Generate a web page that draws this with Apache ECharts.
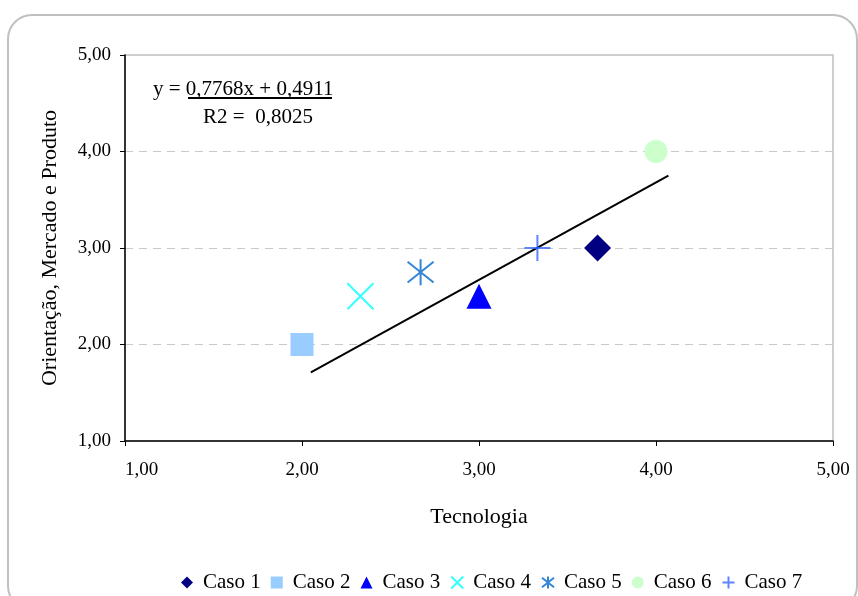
<!DOCTYPE html>
<html>
<head>
<meta charset="utf-8">
<script src="https://cdn.jsdelivr.net/npm/echarts@6/dist/echarts.min.js"></script>
<style>
html,body{margin:0;padding:0;background:#fff;}
#chart{width:858px;height:596px;}
</style>
</head>
<body>
<div id="chart"></div>
<script>
// ---- data ----
var seriesNames = ['Caso 1','Caso 2','Caso 3','Caso 4','Caso 5','Caso 6','Caso 7'];
var tecnologia = [3.67, 2.00, 3.00, 2.33, 2.67, 4.00, 3.33];
var orientacao = [3.00, 2.00, 2.50, 2.50, 2.75, 4.00, 3.00];
var trendX = [2.05, 4.07];
var trendY = [1.71, 3.75];
var axisTicks = [1, 2, 3, 4, 5];
var equationText = 'y = 0,7768x + 0,4911';
var r2Text = 'R2 =  0,8025';
var xTitle = 'Tecnologia';
var yTitle = 'Orientação, Mercado e Produto';

var FONT = 'Liberation Serif';
var colors = ['#000080','#99ccff','#0000ff','#00ffff','#0066cc','#ccffcc','#3366ff'];
var symbols = [
  'diamond','rect','triangle',
  'path://M0,0L10,10M10,0L0,10',
  'path://M0,1L10,9M10,1L0,9M5,0L5,10',
  'circle',
  'path://M5,0L5,10M0,5L10,5'
];
var sizes = [27, 23, 25, 26, 26, 23, 26];
var stroked = [false,false,false,true,true,false,true];

function fmt(v){ return v.toFixed(2).replace('.', ','); }

var series = seriesNames.map(function(n, i){
  var style = stroked[i]
    ? {color:'rgba(0,0,0,0)', borderColor: colors[i], borderWidth: 2}
    : {color: colors[i], opacity: 1};
  return {
    name: n,
    type: 'scatter',
    symbol: symbols[i],
    symbolSize: sizes[i],
    itemStyle: style,
    z: 3,
    data: [[tecnologia[i], orientacao[i]]]
  };
});
series.push({
  name: 'trend',
  type: 'line',
  symbol: 'none',
  silent: true,
  lineStyle: {color:'#000', width: 2},
  z: 2,
  data: trendX.map(function(x, i){ return [x, trendY[i]]; })
});

var chart = echarts.init(document.getElementById('chart'), null, {renderer:'canvas'});
chart.setOption({
  animation: false,
  backgroundColor: '#fff',
  textStyle: {fontFamily: FONT},
  grid: {left: 125, top: 55, right: 25, bottom: 155, show: true, borderColor: '#c0c0c0', borderWidth: 1.5},
  xAxis: {
    type: 'value', min: axisTicks[0], max: axisTicks[axisTicks.length-1], interval: 1,
    name: xTitle, nameLocation: 'middle', nameGap: 65,
    nameTextStyle: {fontFamily: FONT, fontSize: 22, color: '#000'},
    axisLine: {show: true, lineStyle: {color: '#000', width: 1.5}},
    axisTick: {show: true, inside: false, length: 5, lineStyle: {color:'#000'}},
    axisLabel: {fontFamily: FONT, fontSize: 19, color: '#000', margin: 20, formatter: fmt, alignMinLabel: 'left'},
    splitLine: {show: false}
  },
  yAxis: {
    type: 'value', min: axisTicks[0], max: axisTicks[axisTicks.length-1], interval: 1,
    name: yTitle, nameLocation: 'middle', nameGap: 64, nameRotate: 90,
    nameTextStyle: {fontFamily: FONT, fontSize: 22, color: '#000'},
    axisLine: {show: true, lineStyle: {color: '#000', width: 1.5}},
    axisTick: {show: true, inside: false, length: 5, lineStyle: {color:'#000'}},
    axisLabel: {fontFamily: FONT, fontSize: 19, color: '#000', margin: 14, formatter: fmt},
    splitLine: {show: true, showMinLine: false, showMaxLine: false, lineStyle: {color: '#c8c8c8', type: [8,6], width: 1}}
  },
  legend: {
    data: seriesNames,
    left: 176, top: 567,
    itemWidth: 12, itemHeight: 12, itemGap: 10,
    textStyle: {fontFamily: FONT, fontSize: 21, color: '#000', padding: [0,0,0,5]},
    selectedMode: false
  },
  graphic: [
    {type: 'rect', shape: {x: 8, y: 15, width: 849, height: 595, r: 24}, style: {fill: 'none', stroke: '#c0c0c0', lineWidth: 2}, z: -1, silent: true},
    {type: 'text', left: 153, top: 79, style: {text: equationText, font: '21px "Liberation Serif"', fill: '#000'}},
    {type: 'line', shape: {x1: 188, y1: 98, x2: 332, y2: 98}, style: {stroke: '#000', lineWidth: 2}},
    {type: 'text', x: 258, y: 117, style: {text: r2Text, font: '21px "Liberation Serif"', fill: '#000', align: 'center', verticalAlign: 'middle'}}
  ],
  series: series
});
</script>
</body>
</html>
